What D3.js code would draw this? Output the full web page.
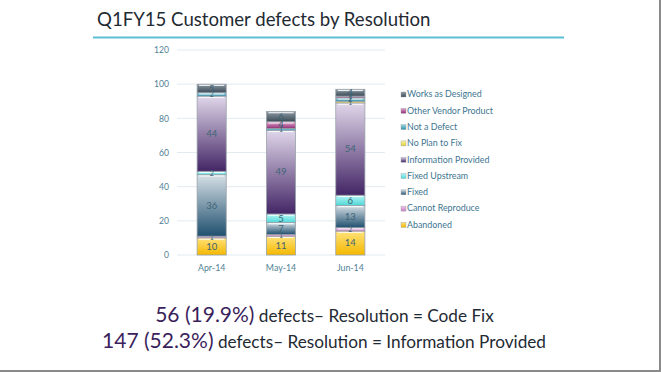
<!DOCTYPE html>
<html><head><meta charset="utf-8">
<script src="https://cdn.jsdelivr.net/npm/d3@7"></script>
<style>
html,body{margin:0;padding:0;background:#fff;}
svg{display:block;}
</style></head>
<body>
<svg id="c" width="661" height="372"></svg>
<script>
const months = ["Apr-14", "May-14", "Jun-14"];
const seriesNames = ["Abandoned", "Cannot Reproduce", "Fixed", "Fixed Upstream", "Information Provided", "No Plan to Fix", "Not a Defect", "Other Vendor Product", "Works as Designed"];
const abandoned = [10, 11, 14];
const cannotReproduce = [1, 1, 2];
const fixed = [36, 7, 13];
const fixedUpstream = [2, 5, 6];
const informationProvided = [44, 49, 54];
const noPlanToFix = [0, 0, 1];
const notADefect = [2, 1, 2];
const otherVendorProduct = [0, 4, 1];
const worksAsDesigned = [5, 6, 4];
const yTicks = [0, 20, 40, 60, 80, 100, 120];
const titleText = "Q1FY15 Customer defects by Resolution";
const summary1 = ["56 (19.9%)", " defects\u2013 Resolution = Code Fix"];
const summary2 = ["147 (52.3%)", " defects\u2013 Resolution = Information Provided"];

const seriesValues = [abandoned, cannotReproduce, fixed, fixedUpstream, informationProvided, noPlanToFix, notADefect, otherVendorProduct, worksAsDesigned];
// gradient [top colour, bottom colour]
const seriesColors = [
  ["#ffe27a", "#f5b800"],
  ["#f0c8ec", "#c77bbf"],
  ["#d6e0e6", "#1f4f6e"],
  ["#b8f6f4", "#4fd8d8"],
  ["#e0d7ea", "#432565"],
  ["#fbf39a", "#e2cf3a"],
  ["#9ad8e6", "#2f8ea8"],
  ["#e6a6cf", "#8e2d74"],
  ["#8e9aa4", "#3a4a56"]
];

const svg = d3.select("#c");
svg.append("rect").attr("x",0).attr("y",0).attr("width",661).attr("height",372).attr("fill","#fff");
svg.append("line").attr("x1",660).attr("x2",660).attr("y1",0).attr("y2",372).attr("stroke","#8a8a8a").attr("stroke-width",2);
svg.append("line").attr("x1",0).attr("x2",661).attr("y1",371).attr("y2",371).attr("stroke","#8a8a8a").attr("stroke-width",2);

svg.append("text").attr("x",97).attr("y",26).attr("font-family","Lato, 'Open Sans', sans-serif")
  .attr("font-size",18.6).attr("fill","#1f2a33").text(titleText);
svg.append("line").attr("x1",93).attr("x2",564).attr("y1",37.5).attr("y2",37.5).attr("stroke","#5bc0d6").attr("stroke-width",2);

const defs = svg.append("defs");
seriesColors.forEach((c,i)=>{
  const g = defs.append("linearGradient").attr("id","g"+i).attr("x1",0).attr("x2",0).attr("y1",0).attr("y2",1);
  g.append("stop").attr("offset","0%").attr("stop-color",c[0]);
  g.append("stop").attr("offset","100%").attr("stop-color",c[1]);
});

const y = d3.scaleLinear().domain([0,120]).range([255,50]);
const x = d3.scaleBand().domain(months).range([177,385]).paddingInner(0.58).paddingOuter(0.29);

svg.append("g").selectAll("line").data(yTicks).join("line")
  .attr("x1",177).attr("x2",385).attr("y1",d=>y(d)).attr("y2",d=>y(d))
  .attr("stroke","#e2ebf0").attr("stroke-width",1);

const yAxis = d3.axisLeft(y).tickValues(yTicks).tickSize(0).tickPadding(0);
const ya = svg.append("g").attr("transform","translate(169,0)").call(yAxis);
ya.select(".domain").remove();
ya.selectAll("text").attr("font-family","Lato, sans-serif").attr("font-size",8.6).attr("fill","#4f7f95");

const xAxis = d3.axisBottom(x).tickSize(0).tickPadding(0);
const xa = svg.append("g").attr("transform","translate(0,265)").call(xAxis);
xa.select(".domain").remove();
xa.selectAll("text").attr("font-family","Lato, sans-serif").attr("font-size",8.8).attr("fill","#4f7f95");

const table = months.map((m,j)=>{
  const o = {month:m};
  seriesNames.forEach((s,i)=>{ o[s] = seriesValues[i][j]; });
  return o;
});
const stacked = d3.stack().keys(seriesNames)(table);

const layers = svg.append("g").selectAll("g").data(stacked).join("g");
layers.each(function(layer, i){
  const g = d3.select(this);
  const segs = layer.filter(d=>d[1]-d[0]>0);
  g.selectAll("rect.seg").data(segs).join("rect").attr("class","seg")
    .attr("x",d=>x(d.data.month)).attr("width",x.bandwidth())
    .attr("y",d=>y(d[1])).attr("height",d=>y(d[0])-y(d[1]))
    .attr("fill","url(#g"+i+")")
    .attr("stroke","#9aa3aa").attr("stroke-width",0.8);
  g.selectAll("line.hl").data(segs.filter(d=>y(d[0])-y(d[1])>3)).join("line").attr("class","hl")
    .attr("x1",d=>x(d.data.month)+2).attr("x2",d=>x(d.data.month)+x.bandwidth()-2)
    .attr("y1",d=>y(d[1])+1.2).attr("y2",d=>y(d[1])+1.2)
    .attr("stroke","#ffffff").attr("stroke-opacity",0.85).attr("stroke-width",1.2);
});
// segment labels drawn on top of all layers
const labelG = svg.append("g");
stacked.forEach(layer=>{
  layer.filter(d=>d[1]-d[0]>0).forEach(d=>{
    const v = d[1]-d[0];
    labelG.append("text")
      .attr("x",x(d.data.month)+x.bandwidth()/2)
      .attr("y",(y(d[0])+y(d[1]))/2 + (v>=3?3.3:2.5))
      .attr("text-anchor","middle").attr("font-family","Lato, sans-serif")
      .attr("font-size", v>=3 ? 9.5 : 7)
      .attr("fill","#3e6475").text(v);
  });
});

const legendItems = seriesNames.map((s,i)=>({name:s,i})).reverse();
const lg = svg.append("g").selectAll("g").data(legendItems).join("g")
  .attr("transform",(d,k)=>`translate(401,${95.5 + k*16.3})`);
lg.append("rect").attr("x",0).attr("y",-3.5).attr("width",5).attr("height",5)
  .attr("fill",d=>"url(#g"+d.i+")").attr("stroke","#9aa3aa").attr("stroke-width",0.4);
lg.append("text").attr("x",6).attr("y",1.8).attr("font-family","Lato, sans-serif").attr("font-size",8.9)
  .attr("fill","#3d7590").text(d=>d.name);

function summary(lineParts, cx, yb){
  const t = svg.append("text").attr("x",cx).attr("y",yb).attr("text-anchor","middle")
    .attr("font-family","Lato, 'Open Sans', sans-serif");
  t.append("tspan").attr("font-size",21).attr("fill","#3b1f5c").text(lineParts[0]);
  t.append("tspan").attr("font-size",17.2).attr("fill","#1f2a33").text(lineParts[1]);
}
summary(summary1, 324.5, 322);
summary(summary2, 324, 348);
</script>
</body></html>
